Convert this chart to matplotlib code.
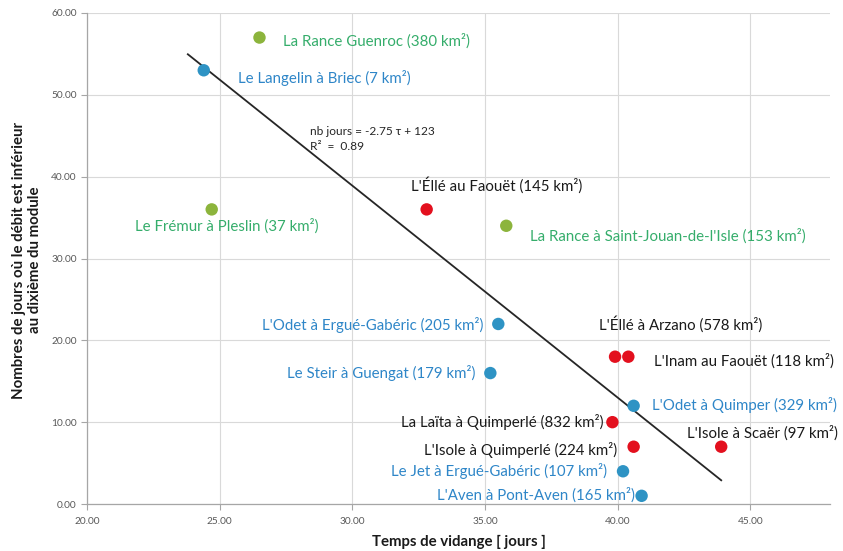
import matplotlib
matplotlib.use("Agg")
import matplotlib.pyplot as plt
import numpy as np

plt.rcParams['font.family'] = ['Lato', 'DejaVu Sans']

# ---- data ----
names = [
    "La Rance Guenroc (380 km²)",
    "Le Frémur à Pleslin (37 km²)",
    "La Rance à Saint-Jouan-de-l'Isle (153 km²)",
    "Le Langelin à Briec (7 km²)",
    "L'Odet à Ergué-Gabéric (205 km²)",
    "Le Steir à Guengat (179 km²)",
    "L'Odet à Quimper (329 km²)",
    "Le Jet à Ergué-Gabéric (107 km²)",
    "L'Aven à Pont-Aven (165 km²)",
    "L'Éllé au Faouët (145 km²)",
    "L'Éllé à Arzano (578 km²)",
    "L'Inam au Faouët (118 km²)",
    "La Laïta à Quimperlé (832 km²)",
    "L'Isole à Quimperlé (224 km²)",
    "L'Isole à Scaër (97 km²)",
]
temps = [26.5, 24.7, 35.8, 24.4, 35.5, 35.2, 40.6, 40.2, 40.9,
         32.8, 39.9, 40.4, 39.8, 40.6, 43.9]
jours = [57.0, 36.0, 34.0, 53.0, 22.0, 16.0, 12.0, 4.0, 1.0,
         36.0, 18.0, 18.0, 10.0, 7.0, 7.0]
groups = ["green", "green", "green", "blue", "blue", "blue", "blue", "blue", "blue",
          "red", "red", "red", "red", "red", "red"]

trend_x = [23.8, 43.9]
trend_slope = -2.59
trend_intercept = 116.6
equation_text = "nb jours = -2.75 τ + 123\nR²  =  0.89"

x_ticks = [20, 25, 30, 35, 40, 45]
y_ticks = [0, 10, 20, 30, 40, 50, 60]

# ---- styles ----
marker_colors = {"green": "#8CB43C", "blue": "#2E93C4", "red": "#E3101E"}
text_colors = {"green": "#35AD6B", "blue": "#2E86C8", "red": "#1A1A1A"}
# label offsets in pixels (dx, dy up) and horizontal alignment
label_pos = [
    (24, -4, "left"),
    (107, -17, "right"),
    (24, -10, "left"),
    (34, -8, "left"),
    (-15, -1, "right"),
    (-15, 0, "right"),
    (18, 1, "left"),
    (-16, 0, "right"),
    (-7, 1, "right"),
    (-16, 24, "left"),
    (-16, 32, "left"),
    (26, -4, "left"),
    (-9, 0, "right"),
    (-17, -3, "right"),
    (-34, 14, "left"),
]

fig = plt.figure(figsize=(8.43, 5.51), dpi=100)
ax = fig.add_axes([87/843, 1-504/551, (830-87)/843, (504-13)/551])

ax.set_xlim(20, 48)
ax.set_ylim(0, 60)
ax.set_xticks(x_ticks)
ax.set_yticks(y_ticks)
ax.xaxis.set_major_formatter(matplotlib.ticker.FormatStrFormatter('%.2f'))
ax.yaxis.set_major_formatter(matplotlib.ticker.FormatStrFormatter('%.2f'))
ax.grid(True, color="#D9D9D9", linewidth=0.8)
ax.set_axisbelow(True)
for s in ["top", "right"]:
    ax.spines[s].set_visible(False)
for s in ["left", "bottom"]:
    ax.spines[s].set_color("#A6A6A6")
    ax.spines[s].set_linewidth(0.9)
ax.tick_params(axis="both", colors="#A6A6A6", labelcolor="#595959",
               labelsize=7.3, length=4, width=0.8)
ax.tick_params(axis="x", pad=5)

# trend line
tx = np.array(trend_x)
ax.plot(tx, trend_slope * tx + trend_intercept, color="#262626", linewidth=1.3, zorder=2)

# points
for x, y, g in zip(temps, jours, groups):
    ax.scatter([x], [y], s=80, color=marker_colors[g], edgecolors="none", zorder=3)

# labels
for name, x, y, g, (dx, dy, ha) in zip(names, temps, jours, groups, label_pos):
    ax.annotate(name, (x, y), xytext=(dx, dy), textcoords="offset pixels",
                ha=ha, va="center", fontsize=10.8, color=text_colors[g])

ax.text(310/843, 1-139/551, equation_text, transform=fig.transFigure,
        fontsize=8.6, color="#262626", va="center", ha="left", linespacing=1.35)

ax.set_xlabel("Temps de vidange [ jours ]", fontsize=10.8, fontweight="bold",
              color="#1A1A1A", labelpad=7)
fig.text(27/843, 1-260/551, "Nombres de jours où le débit est inférieur\nau dixième du module",
         rotation=90, ha="center", va="center", fontsize=10.8, fontweight="bold",
         color="#1A1A1A", linespacing=1.15)

fig.savefig("out.png", dpi=100)
